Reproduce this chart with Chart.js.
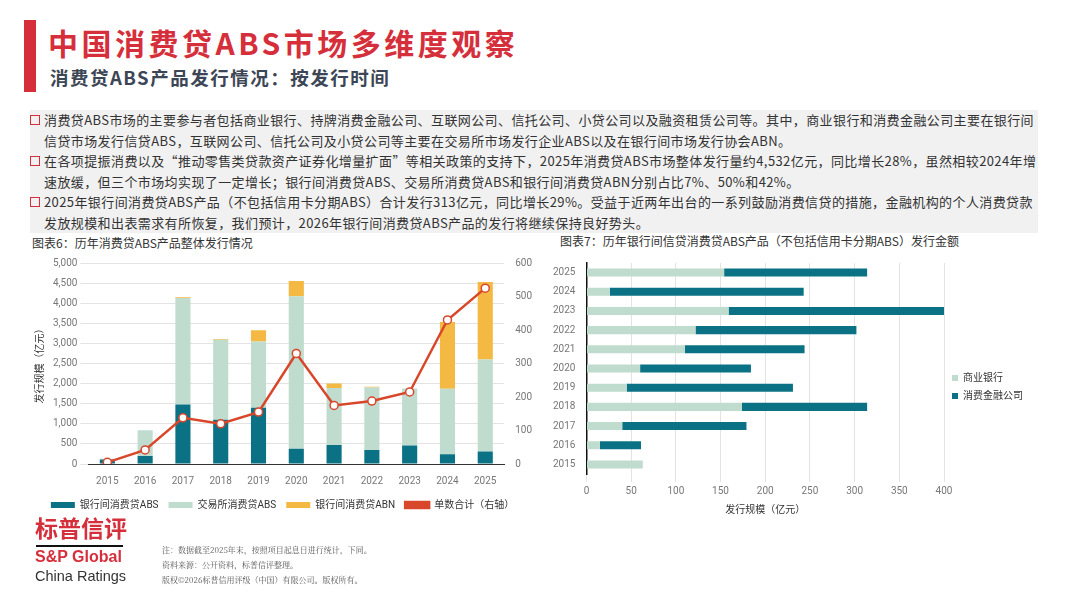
<!DOCTYPE html>
<html><head><meta charset="utf-8">
<script src="https://cdn.jsdelivr.net/npm/chart.js@4"></script>
<style>
body{margin:0;width:1067px;height:600px;background:#fff;font-family:"Noto Sans CJK SC","Noto Sans",sans-serif;position:relative;overflow:hidden}
.abs{position:absolute}
#bar{left:24px;top:20px;width:12px;height:72px;background:#d62f3c}
#t1{left:48px;top:20px;font-size:30px;font-weight:bold;color:#d62f3c;letter-spacing:3.5px}
#t2{left:50px;top:64px;font-size:18.5px;font-weight:bold;color:#3c4655;letter-spacing:1.5px}
#box{left:30px;top:110px;width:1008px;height:123px;background:#f1f1f1;font-size:13px;color:#333;line-height:20.5px;letter-spacing:0.4px}
#box p{margin:0;padding-left:14px;position:relative}
#box p:before{content:"";position:absolute;left:0;top:5px;width:8px;height:8px;border:1.5px solid #d62f3c}
.ct{font-size:12px;color:#333}
#logo1{left:35px;top:510px;font-size:23px;font-weight:bold;color:#d62f3c}
#logoLine{left:36px;top:545px;width:87px;height:2px;background:#111}
#logo2{left:35px;top:548px;font-size:16px;font-weight:bold;color:#d62f3c;font-family:"Liberation Sans",sans-serif}
#logo3{left:35px;top:568px;font-size:14.5px;color:#333;font-family:"Liberation Sans",sans-serif}
#note{left:162px;top:542px;font-size:8px;color:#555;line-height:15px;font-family:"Noto Serif CJK SC","Noto Sans CJK SC",serif}
</style></head><body>
<div class="abs" id="bar"></div>
<div class="abs" id="t1">中国消费贷ABS市场多维度观察</div>
<div class="abs" id="t2">消费贷ABS产品发行情况：按发行时间</div>
<div class="abs" id="box">
<p>消费贷ABS市场的主要参与者包括商业银行、持牌消费金融公司、互联网公司、信托公司、小贷公司以及融资租赁公司等。其中，商业银行和消费金融公司主要在银行间信贷市场发行信贷ABS，互联网公司、信托公司及小贷公司等主要在交易所市场发行企业ABS以及在银行间市场发行协会ABN。</p>
<p>在各项提振消费以及“推动零售类贷款资产证券化增量扩面”等相关政策的支持下，2025年消费贷ABS市场整体发行量约4,532亿元，同比增长28%，虽然相较2024年增速放缓，但三个市场均实现了一定增长；银行间消费贷ABS、交易所消费贷ABS和银行间消费贷ABN分别占比7%、50%和42%。</p>
<p>2025年银行间消费贷ABS产品（不包括信用卡分期ABS）合计发行313亿元，同比增长29%。受益于近两年出台的一系列鼓励消费信贷的措施，金融机构的个人消费贷款发放规模和出表需求有所恢复，我们预计，2026年银行间消费贷ABS产品的发行将继续保持良好势头。</p>
</div>
<div class="abs ct" style="left:32px;top:234px">图表6：历年消费贷ABS产品整体发行情况</div>
<div class="abs ct" style="left:560px;top:232px">图表7：历年银行间信贷消费贷ABS产品（不包括信用卡分期ABS）发行金额</div>
<div class="abs" style="left:30px;top:254px;width:505px;height:266px"><canvas id="c1"></canvas></div>
<div class="abs" style="left:550px;top:254px;width:505px;height:266px"><canvas id="c2"></canvas></div>
<div class="abs" id="logo1">标普信评</div>
<div class="abs" id="logoLine"></div>
<div class="abs" id="logo2">S&amp;P Global</div>
<div class="abs" id="logo3">China Ratings</div>
<div class="abs" id="note">注：数据截至2025年末，按照项目起息日进行统计，下同。<br>资料来源：公开资料，标普信评整理。<br>版权©2026标普信用评级（中国）有限公司。版权所有。</div>
<script>
var years = ["2015","2016","2017","2018","2019","2020","2021","2022","2023","2024","2025"];
var bankAbs = [110,200,1480,1100,1400,380,470,350,460,240,310];
var exchAbs = [20,640,2650,1990,1650,3790,1420,1550,1420,1630,2290];
var bankAbn = [0,0,20,20,280,380,110,20,0,1660,1930];
var dealCount = [5,42,138,120,155,330,175,188,215,430,525];

var years2 = ["2015","2016","2017","2018","2019","2020","2021","2022","2023","2024","2025"];
var commBank = [63,15,40,174,45,60,110,122,159,26,154];
var consFin = [0,46,139,140,186,124,134,180,242,217,160];

Chart.defaults.font.family = "Roboto, 'Noto Sans CJK SC', sans-serif";
Chart.defaults.color = "#777";
Chart.defaults.animation = false;

new Chart(document.getElementById("c1"), {
  type: "bar",
  data: {
    labels: years,
    datasets: [
      { type: "line", label: "单数合计（右轴）", data: dealCount, yAxisID: "y1", borderColor: "#d9472b", borderWidth: 2.5,
        pointBackgroundColor: "#fff", pointBorderColor: "#d9472b", pointRadius: 4, pointBorderWidth: 1.5, tension: 0, order: 0 },
      { label: "银行间消费贷ABS", data: bankAbs, backgroundColor: "#0b7285", stack: "s", barPercentage: 0.4, categoryPercentage: 1, order: 1 },
      { label: "交易所消费贷ABS", data: exchAbs, backgroundColor: "#bfdcce", stack: "s", barPercentage: 0.4, categoryPercentage: 1, order: 1 },
      { label: "银行间消费贷ABN", data: bankAbn, backgroundColor: "#f4b942", stack: "s", barPercentage: 0.4, categoryPercentage: 1, order: 1 }
    ]
  },
  options: {
    responsive: true, maintainAspectRatio: false,
    layout: { padding: { top: 6, right: 0 } },
    plugins: {
      legend: { position: "bottom",
        labels: { font: { size: 10 }, color: "#333", boxWidth: 24, boxHeight: 6, padding: 10,
          sort: function (a, b) { return (a.datasetIndex === 0 ? 9 : a.datasetIndex) - (b.datasetIndex === 0 ? 9 : b.datasetIndex); },
          generateLabels: function (chart) {
            var items = Chart.defaults.plugins.legend.labels.generateLabels(chart);
            items.forEach(function (it) { if (it.datasetIndex === 0) { it.fillStyle = "#d9472b"; it.strokeStyle = "#d9472b"; } });
            return items;
          } } },
      tooltip: { enabled: false }
    },
    scales: {
      x: { stacked: true, grid: { display: false }, border: { color: "#333" }, ticks: { font: { size: 10 } } },
      y: { stacked: true, min: 0, max: 5000, ticks: { stepSize: 500, font: { size: 10 }, callback: function (v) { return v.toLocaleString("en-US"); } },
        grid: { color: "#e3e3e3" }, border: { display: false },
        title: { display: true, text: "发行规模（亿元）", font: { size: 10 }, color: "#333" } },
      y1: { position: "right", min: 0, max: 600, ticks: { stepSize: 100, font: { size: 10 } }, grid: { display: false }, border: { display: false } }
    }
  }
});

new Chart(document.getElementById("c2"), {
  type: "bar",
  data: {
    labels: years2,
    datasets: [
      { label: "商业银行", data: commBank, backgroundColor: "#bfdcce", barPercentage: 0.42, categoryPercentage: 1 },
      { label: "消费金融公司", data: consFin, backgroundColor: "#0b7285", barPercentage: 0.42, categoryPercentage: 1 }
    ]
  },
  options: {
    indexAxis: "y", responsive: true, maintainAspectRatio: false,
    layout: { padding: { right: 22 } },
    plugins: {
      legend: { position: "right", labels: { font: { size: 10 }, color: "#333", boxWidth: 6, boxHeight: 6, padding: 8 } },
      tooltip: { enabled: false }
    },
    scales: {
      y: { stacked: true, reverse: true, grid: { display: false }, border: { color: "#111", width: 1.5 }, ticks: { font: { size: 10 } } },
      x: { stacked: true, min: 0, max: 400, ticks: { stepSize: 50, font: { size: 10 } }, grid: { color: "#e3e3e3" }, border: { display: false },
        title: { display: true, text: "发行规模（亿元）", font: { size: 10 }, color: "#333" } }
    }
  }
});
</script>
</body></html>
